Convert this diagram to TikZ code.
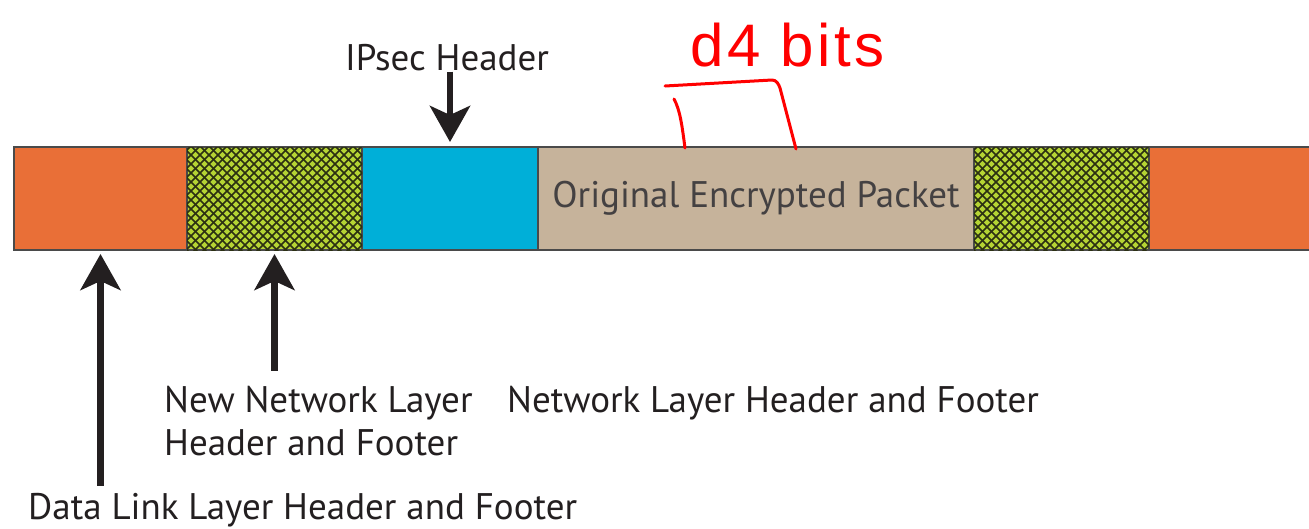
\documentclass[tikz,border=0pt]{standalone}
\usepackage{fontspec}
\setmainfont{PT Sans}
\newfontfamily\inkfont[LetterSpace=6]{Liberation Sans}
\usetikzlibrary{arrows.meta,calc}

\definecolor{dlorange}{HTML}{E96F37}
\definecolor{netgreen}{HTML}{B5D434}
\definecolor{hatchdark}{HTML}{2B3012}
\definecolor{ipblue}{HTML}{00AFD8}
\definecolor{packtan}{HTML}{C6B39B}
\definecolor{segedge}{HTML}{4A4A4A}
\definecolor{labeltext}{HTML}{231F20}
\definecolor{inkred}{HTML}{FF0000}

\tikzset{
  seg/.style={draw=segedge, line width=2pt, minimum height=103pt,
    inner sep=0pt, anchor=north west,
    font=\fontsize{37}{44}\selectfont, text=labeltext!85},
  lbl/.style={font=\fontsize{37}{43}\selectfont, text=labeltext, inner sep=0pt},
  hatchline/.style={draw=hatchdark, line width=1.5pt},
  bigarrow/.style={draw=labeltext, line width=6.5pt,
    -{Stealth[length=36pt,width=40pt,inset=9pt]}},
  pen/.style={draw=inkred, line width=3pt, line cap=round, line join=round},
}

% cross-hatching inside a named segment
\newcommand\hatchcell[1]{%
  \begin{scope}
    \clip ([shift={(1pt,-1pt)}]#1.north west) rectangle ([shift={(-1pt,1pt)}]#1.south east);
    \foreach \k in {-130,-121,...,310} {
      \draw[hatchline] ($(#1.north west)+(\k,0)$) -- ++(130,130);
      \draw[hatchline] ($(#1.north west)+(\k,0)$) -- ++(-130,130);
    }
  \end{scope}}

\begin{document}
\begin{tikzpicture}[x=1pt,y=-1pt]
  \fill[white] (0,0) rectangle (1309,528);
  \useasboundingbox (0,0) rectangle (1309,528);
  \clip (0,0) rectangle (1309,528);

  % the frame: one row of segments
  \node[seg, fill=dlorange, minimum width=173pt] (dlL) at (13,146) {};
  \node[seg, fill=netgreen, minimum width=175pt] (nnL) at (186,146) {};
  \node[seg, fill=ipblue,   minimum width=176pt] (ips) at (361,146) {};
  \node[seg, fill=packtan,  minimum width=436pt] (pkt) at (537,146) {Original Encrypted Packet};
  \node[seg, fill=netgreen, minimum width=175pt] (nnR) at (973,146) {};
  \node[seg, fill=dlorange, minimum width=180pt] (dlR) at (1148,146) {};
  \hatchcell{nnL}
  \hatchcell{nnR}

  % labels
  \node[lbl, anchor=base] (iphdr) at (447,70) {IPsec Header};
  \node[lbl, anchor=base west, align=left] (nnlbl) at (164,455)
    {New Network Layer\\Header and Footer};
  \node[lbl, anchor=base west] (nwlbl) at (507,412) {Network Layer Header and Footer};
  \node[lbl, anchor=base west] (dllbl) at (28,519) {Data Link Layer Header and Footer};

  % arrows
  \draw[bigarrow] ([yshift=-1pt]iphdr.south -| ips.north) -- ([yshift=4pt]ips.north);
  \draw[bigarrow] ([yshift=7pt]dllbl.north -| dlL.south) -- ([yshift=-3pt]dlL.south);
  \draw[bigarrow] ([yshift=15pt]nnlbl.north -| nnL.south) -- ([yshift=-3pt]nnL.south);

  % handwritten note over the packet
  \node[anchor=base west, inner sep=0pt, text=inkred,
        font=\inkfont\fontsize{60}{66}\selectfont] (note) at (690,66) {d4 bits};
  \coordinate (brL) at (685,148);
  \coordinate (brR) at (796,149);
  \draw[pen] (665,86) -- (772,80) to[out=0,in=110] (780,88) -- (brR);
  \draw[pen] (674,99) .. controls (680,110) and (682,125) .. (brL);
\end{tikzpicture}
\end{document}
